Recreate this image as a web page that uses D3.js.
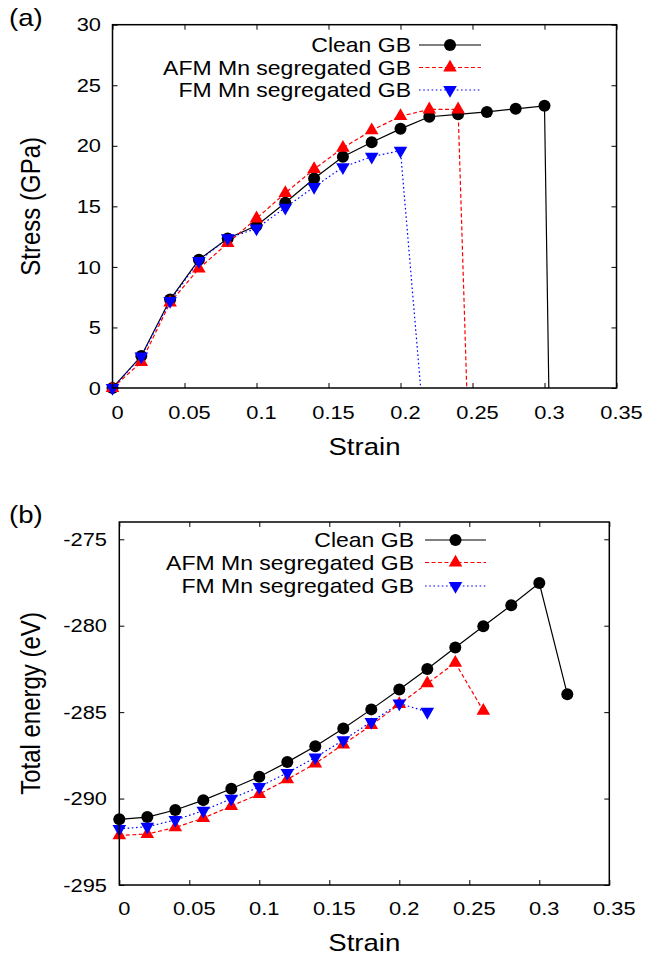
<!DOCTYPE html>
<html><head><meta charset="utf-8">
<script src="https://cdn.jsdelivr.net/npm/d3@7"></script>
<style>body{margin:0;background:#fff}svg{display:block}text{font-family:"Liberation Sans",Arial,sans-serif;fill:#000}</style>
</head><body>
<script>
// ---------- data ----------
const strainTicks = [0,0.05,0.1,0.15,0.2,0.25,0.3,0.35];
const strainTickLabels = ["0","0.05","0.1","0.15","0.2","0.25","0.3","0.35"];
const stressTicks = [0,5,10,15,20,25,30];
const energyTicks = [-295,-290,-285,-280,-275];
const seriesNames = ["Clean GB","AFM Mn segregated GB","FM Mn segregated GB"];

// panel (a): stress vs strain
const cleanStrainA = [0,0.02,0.04,0.06,0.08,0.10,0.12,0.14,0.16,0.18,0.20,0.22,0.24,0.26,0.28,0.30];
const cleanStress  = [0,2.64,7.3,10.6,12.35,13.4,15.3,17.3,19.1,20.3,21.4,22.4,22.6,22.8,23.05,23.3];
const afmStrainA   = [0,0.02,0.04,0.06,0.08,0.10,0.12,0.14,0.16,0.18,0.20,0.22,0.24];
const afmStress    = [0,2.15,7.05,9.86,11.96,14.0,16.1,18.07,19.83,21.27,22.45,23.0,23.0];
const fmStrainA    = [0,0.02,0.04,0.06,0.08,0.10,0.12,0.14,0.16,0.18,0.20];
const fmStress     = [0,2.6,7.2,10.5,12.37,13.17,14.9,16.6,18.24,19.1,19.6];
const fractureStrain = [0.303,0.246,0.214]; // clean, AFM, FM (stress drops to 0)

// panel (b): total energy vs strain
const cleanStrainB = [0,0.02,0.04,0.06,0.08,0.10,0.12,0.14,0.16,0.18,0.20,0.22,0.24,0.26,0.28,0.30,0.32];
const cleanEnergy  = [-291.2,-291.07,-290.66,-290.09,-289.43,-288.74,-287.89,-286.97,-285.94,-284.84,-283.69,-282.5,-281.26,-280.03,-278.82,-277.53,-283.96];
const afmStrainB   = [0,0.02,0.04,0.06,0.08,0.10,0.12,0.14,0.16,0.18,0.20,0.22,0.24,0.26];
const afmEnergy    = [-292.13,-292.05,-291.67,-291.13,-290.43,-289.74,-288.89,-287.97,-286.87,-285.75,-284.54,-283.34,-282.15,-284.92];
const fmStrainB    = [0,0.02,0.04,0.06,0.08,0.10,0.12,0.14,0.16,0.18,0.20,0.22];
const fmEnergy     = [-291.75,-291.63,-291.24,-290.7,-290.01,-289.32,-288.51,-287.62,-286.62,-285.56,-284.5,-284.98];

// ---------- drawing ----------
const W = 648, H = 960, SX = 1.15;
const svg = d3.select("body").append("svg").attr("width", W).attr("height", H);

const styles = [
  {color:"#000000", dash:null, marker:"circle"},
  {color:"#ff0000", dash:"4,2.5", marker:"up"},
  {color:"#0000ff", dash:"1.6,2.6", marker:"down"}
];

function stext(g, x, y, str, size, anchor) {
  g.append("g").attr("transform", `translate(${x},${y}) scale(${SX},1)`)
    .append("text").attr("text-anchor", anchor).attr("dy", "0.35em")
    .attr("font-size", size).text(str);
}

function marker(g, x, y, st) {
  if (st.marker === "circle") {
    g.append("circle").attr("cx", x).attr("cy", y).attr("r", 6).attr("fill", st.color);
  } else {
    g.append("path").attr("d", d3.symbol(d3.symbolTriangle, 80)())
      .attr("transform", `translate(${x},${y}) rotate(${st.marker === "down" ? 180 : 0})`)
      .attr("fill", st.color);
  }
}

function panel(opts) {
  const {left, right, top, bottom, xDomain, yDomain, yTicks, series, lines, legendY, legendX, label, ytitle, xtitleY, xlabelY, ylabelRight, id} = opts;
  const x = d3.scaleLinear().domain(xDomain).range([left, right]);
  const y = d3.scaleLinear().domain(yDomain).range([bottom, top]);
  const g = svg.append("g");

  g.append("clipPath").attr("id", id).append("rect")
    .attr("x", left).attr("y", top).attr("width", right - left).attr("height", bottom - top);

  // ticks (inward, mirrored)
  const tk = 5;
  g.append("g").attr("transform", `translate(0,${bottom})`)
    .call(d3.axisBottom(x).tickValues(strainTicks).tickSizeInner(-tk).tickSizeOuter(0).tickFormat(""))
    .call(a => a.select(".domain").remove()).selectAll("line").attr("stroke", "#000");
  g.append("g").attr("transform", `translate(0,${top})`)
    .call(d3.axisTop(x).tickValues(strainTicks).tickSizeInner(-tk).tickSizeOuter(0).tickFormat(""))
    .call(a => a.select(".domain").remove()).selectAll("line").attr("stroke", "#000");
  g.append("g").attr("transform", `translate(${left},0)`)
    .call(d3.axisLeft(y).tickValues(yTicks).tickSizeInner(-tk).tickSizeOuter(0).tickFormat(""))
    .call(a => a.select(".domain").remove()).selectAll("line").attr("stroke", "#000");
  g.append("g").attr("transform", `translate(${right},0)`)
    .call(d3.axisRight(y).tickValues(yTicks).tickSizeInner(-tk).tickSizeOuter(0).tickFormat(""))
    .call(a => a.select(".domain").remove()).selectAll("line").attr("stroke", "#000");

  // tick labels
  strainTicks.forEach((v, i) => stext(g, x(v) + 5, xlabelY, strainTickLabels[i], 19, "middle"));
  yTicks.forEach(v => stext(g, ylabelRight, y(v), String(v), 19, "end"));

  // data
  const plot = g.append("g").attr("clip-path", `url(#${id})`);
  const line = d3.line().x(d => x(d[0])).y(d => y(d[1]));
  series.forEach((s, i) => {
    const st = styles[i];
    const pts = s.xs.map((v, j) => [v, s.ys[j]]);
    const linePts = lines ? pts.concat(lines[i]) : pts;
    plot.append("path").attr("d", line(linePts)).attr("fill", "none")
      .attr("stroke", st.color).attr("stroke-width", 1.2)
      .attr("stroke-dasharray", st.dash);
  });
  series.forEach((s, i) => {
    s.xs.forEach((v, j) => marker(g, x(v), y(s.ys[j]), styles[i]));
  });

  // frame
  g.append("rect").attr("x", left).attr("y", top).attr("width", right - left).attr("height", bottom - top)
    .attr("fill", "none").attr("stroke", "#000").attr("stroke-width", 1.5);

  // legend
  seriesNames.forEach((n, i) => {
    const ly = legendY[i], st = styles[i];
    stext(g, legendX[0], ly, n, 20, "end");
    g.append("line").attr("x1", legendX[1]).attr("x2", legendX[2]).attr("y1", ly).attr("y2", ly)
      .attr("stroke", st.color).attr("stroke-width", 1.2).attr("stroke-dasharray", st.dash);
    marker(g, (legendX[1] + legendX[2]) / 2, ly, st);
  });

  // titles
  stext(g, (left + right) / 2, xtitleY, "Strain", 24, "middle");
  g.append("g").attr("transform", `translate(30,${(top + bottom) / 2}) scale(${SX},1) rotate(-90)`)
    .append("text").attr("text-anchor", "middle").attr("dy", "0.35em").attr("font-size", 24).text(ytitle);
  stext(g, label[0], label[1], label[2], 24, "start");
}

panel({
  id: "clipA", left: 112.5, right: 616.5, top: 24.7, bottom: 388,
  xDomain: [0, 0.35], yDomain: [0, 30], yTicks: stressTicks,
  series: [
    {xs: cleanStrainA, ys: cleanStress},
    {xs: afmStrainA, ys: afmStress},
    {xs: fmStrainA, ys: fmStress}
  ],
  lines: fractureStrain.map(f => [[f, 0]]),
  legendY: [45, 67.5, 90], legendX: [411, 419, 481],
  label: [9, 18, "(a)"], ytitle: "Stress (GPa)",
  xtitleY: 447, xlabelY: 412, ylabelRight: 101
});

panel({
  id: "clipB", left: 119.3, right: 609.3, top: 522, bottom: 885,
  xDomain: [0, 0.35], yDomain: [-295, -274], yTicks: energyTicks,
  series: [
    {xs: cleanStrainB, ys: cleanEnergy},
    {xs: afmStrainB, ys: afmEnergy},
    {xs: fmStrainB, ys: fmEnergy}
  ],
  lines: null,
  legendY: [540, 562.5, 586], legendX: [414, 425, 486],
  label: [9, 515, "(b)"], ytitle: "Total energy (eV)",
  xtitleY: 943, xlabelY: 908, ylabelRight: 107
});
</script>
</body></html>
